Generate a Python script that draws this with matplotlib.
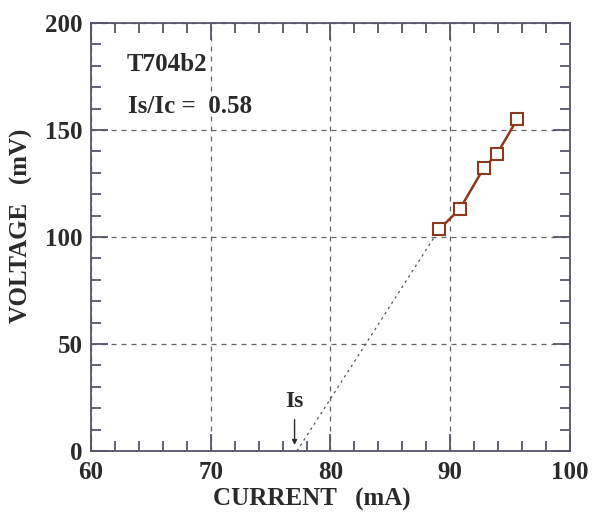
import matplotlib.pyplot as plt
from matplotlib.ticker import MultipleLocator

# measured points above the switching current
current = [89.1, 90.8, 92.8, 93.9, 95.6]      # mA
voltage = [103.7, 113.1, 132.2, 138.8, 155.1]  # mV

# extrapolated onset (Is) on the current axis
is_current = 77.2
sample = "T704b2"
ratio_text = "Is/Ic =  0.58"

plt.rcParams['font.family'] = ['Liberation Serif', 'DejaVu Serif']
plt.rcParams['font.weight'] = 'bold'

ink = '#2a2a2a'
axis_col = '#55556a'
brown = '#8b3a1e'

fig = plt.figure(figsize=(5.92, 5.14), dpi=100)
ax = fig.add_axes([0.1537, 0.1226, 0.8091, 0.8327])

# dotted extrapolation down to the voltage zero
ax.plot([is_current, current[0]], [0, voltage[0]], color='#555555', lw=0.9,
        ls=(0, (2, 3)), zorder=2)
ax.plot(current, voltage, color=brown, lw=1.8, marker='s', ms=8,
        mfc='white', mec=brown, mew=1.5, zorder=3)

ax.set_xlim(60, 100)
ax.set_ylim(0, 200)
ax.xaxis.set_major_locator(MultipleLocator(10))
ax.xaxis.set_minor_locator(MultipleLocator(2))
ax.yaxis.set_major_locator(MultipleLocator(50))
ax.yaxis.set_minor_locator(MultipleLocator(10))
ax.tick_params(which='both', direction='in', top=True, right=True,
               colors=axis_col, labelcolor=ink, width=1.3)
ax.tick_params(which='major', length=12, labelsize=18)
ax.tick_params(axis='x', which='major', pad=7)
ax.tick_params(axis='y', which='major', pad=6)
ax.tick_params(which='minor', length=7)
for lab in ax.get_xticklabels() + ax.get_yticklabels():
    lab.set_fontweight('bold')
for sp in ax.spines.values():
    sp.set_color(axis_col)
    sp.set_linewidth(1.3)

ax.grid(True, which='major', color='#666666', ls=(0, (4, 4)), lw=0.9)

fig.text(312 / 592, 1 - 499 / 514, 'CURRENT   (mA)', fontsize=18, fontweight='bold',
         color=ink, ha='center', va='center')
fig.text(21 / 592, 1 - 226 / 514, 'VOLTAGE   (mV)', fontsize=18, fontweight='bold',
         color=ink, ha='center', va='center', rotation=90)

ax.text(63.0, 180.5, sample, fontsize=18, fontweight='bold', color=ink, va='center')
ax.text(63.1, 161, ratio_text, fontsize=18, fontweight='bold', color=ink, va='center')

# Is marker with arrow
ax.annotate('', xy=(77.0, 1.5), xytext=(77.0, 16),
            arrowprops=dict(arrowstyle='-|>', color=ink, lw=1.0, mutation_scale=7))
ax.text(77.0, 23, 'Is', fontsize=17, fontweight='bold', color=ink,
        ha='center', va='center')

fig.savefig('out.png', dpi=100)
